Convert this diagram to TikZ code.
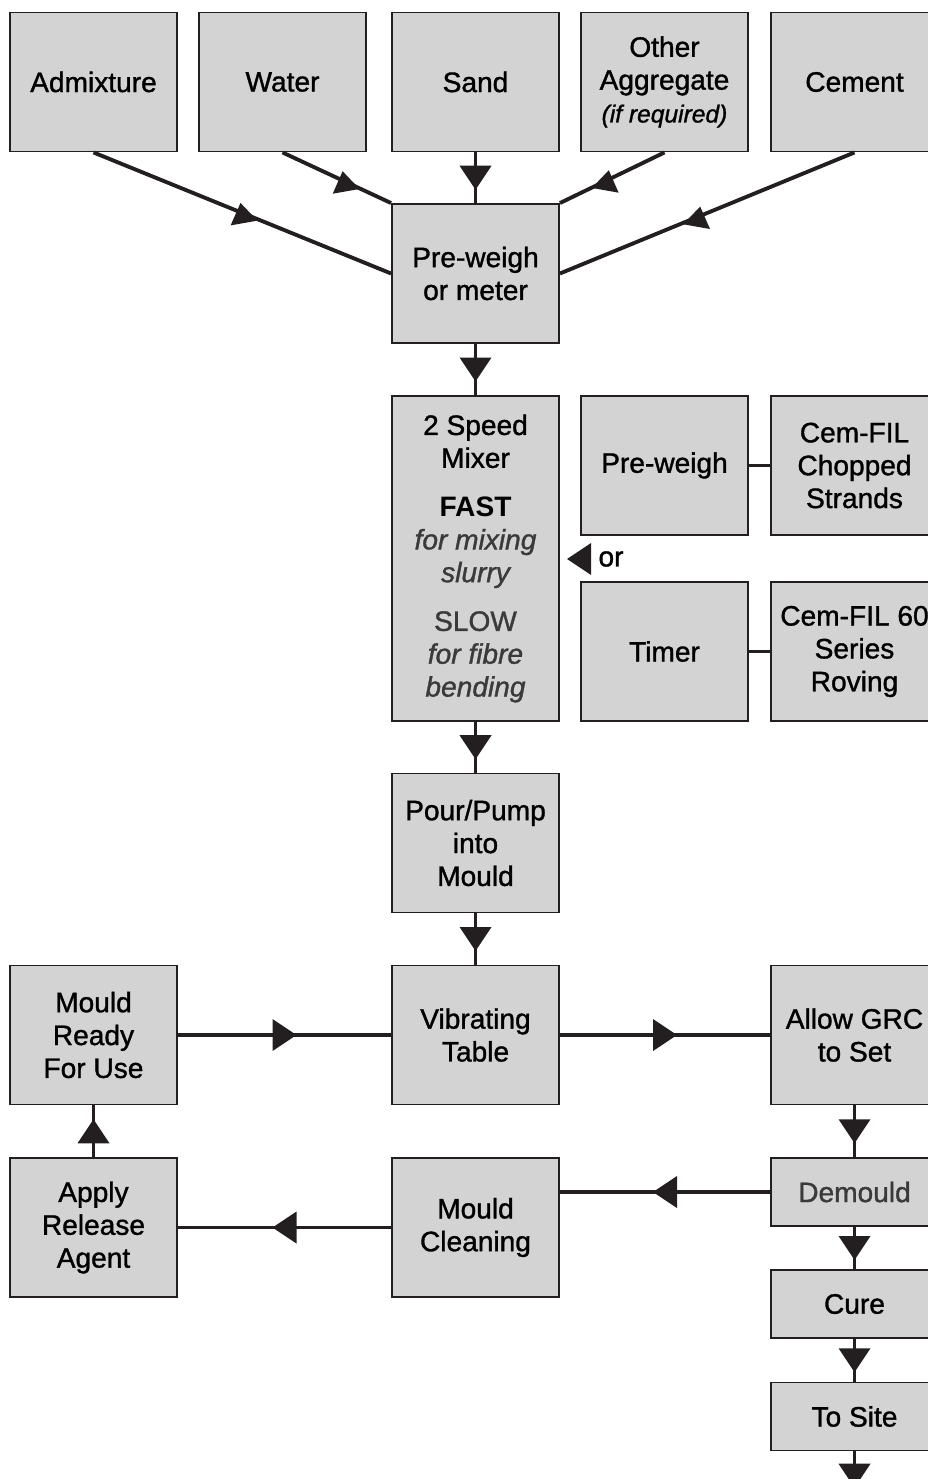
\documentclass[tikz,border=0pt]{standalone}
\usepackage{fontspec}
\setmainfont{Liberation Sans}[UprightFeatures={FakeBold=1.2}, ItalicFeatures={FakeBold=1.2}]
\usetikzlibrary{positioning,calc}

\definecolor{ink}{HTML}{231F20}
\definecolor{boxgray}{HTML}{D3D3D3}
\definecolor{softink}{HTML}{3A3A3A}

\tikzset{
  box/.style={draw=ink, fill=boxgray, line width=1.1pt, minimum width=3.34cm,
    minimum height=2.78cm, align=center, inner sep=0pt,
    font=\fontsize{16}{18.7}\selectfont},
  lowbox/.style={box, minimum height=1.36cm},
  mixbox/.style={box, minimum height=6.5cm},
  link/.style={draw=ink, line width=2.2pt},
  tip/.pic={\fill[ink] (-12,-16) -- (12,0) -- (-12,16) -- cycle;}
}

\begin{document}
\begin{tikzpicture}[x=0.02cm, y=0.02cm]
  \useasboundingbox (0,0) rectangle (928,-1479);

  % raw materials
  \node[box] (adm) at (93.5,-82) {Admixture};
  \node[box] (wat) at (282.5,-82) {Water};
  \node[box] (sand) at (475.5,-82) {Sand};
  \node[box] (oth) at (664.5,-82) {Other\\Aggregate\\{\fontsize{14}{16}\selectfont\itshape (if required)}};
  \node[box] (cem) at (854.5,-82) {Cement};

  \node[box] (pwm) at (475.5,-273.5) {Pre-weigh\\or meter};

  % mixer and fibre
  \node[mixbox] (mix) at (475.5,-558.5) {2 Speed\\Mixer\\[9pt]\textbf{FAST}\\
    {\color{softink}\itshape for mixing}\\{\color{softink}\itshape slurry}\\[9pt]
    {\color{softink}SLOW}\\{\color{softink}\itshape for fibre}\\{\color{softink}\itshape bending}};
  \node[box] (pwf) at (664.5,-465.5) {Pre-weigh};
  \node[box] (chop) at (854.5,-465.5) {Cem-FIL\\Chopped\\Strands};
  \node[box] (tim) at (664.5,-651.5) {Timer};
  \node[box] (rov) at (854.5,-651.5) {Cem-FIL 60\\Series\\Roving};
  \node[font=\fontsize{16}{18.7}\selectfont] (or) at (611,-559) {or};
  \pic[rotate=180] at (579,-559) {tip};

  \node[box] (pour) at (475.5,-843) {Pour/Pump\\into\\Mould};

  % mould cycle
  \node[box] (vib) at (475.5,-1035) {Vibrating\\Table};
  \node[box] (ready) at (93.5,-1035) {Mould\\Ready\\For Use};
  \node[box] (allow) at (854.5,-1035) {Allow GRC\\to Set};
  \node[lowbox] (dem) at (854.5,-1192) {\color{softink}Demould};
  \node[lowbox] (cure) at (854.5,-1304) {Cure};
  \node[lowbox] (site) at (854.5,-1416.5) {To Site};
  \node[box] (apply) at (93.5,-1227.5) {Apply\\Release\\Agent};
  \node[box] (clean) at (475.5,-1227.5) {Mould\\Cleaning};
  \coordinate (out) at (854.5,-1500);

  % feeds into pre-weigh
  \draw[link] (adm.south) -- (pwm.west) coordinate[pos=.5] (am);
  \draw[link] (wat.south) -- (pwm.north west) coordinate[pos=.57] (wm);
  \draw[link] (sand.south) -- (pwm.north) pic[pos=.5, rotate=-90] {tip};
  \draw[link] (oth.south) -- (pwm.north east) coordinate[pos=.55] (om);
  \draw[link] (cem.south) -- (pwm.east) coordinate[pos=.53] (cm);
  \foreach \m/\r in {am/100, wm/100, om/80, cm/80}
    \pic[rotate=\r, scale=.85] at (\m) {tip};

  \draw[link] (pwm.south) -- (mix.north) pic[pos=.5, rotate=-90] {tip};
  \draw[link] (pwf.east) -- (chop.west);
  \draw[link] (tim.east) -- (rov.west);
  \draw[link] (mix.south) -- (pour.north) pic[pos=.5, rotate=-90] {tip};
  \draw[link] (pour.south) -- (vib.north) pic[pos=.5, rotate=-90] {tip};

  \draw[link] (ready.east) -- (vib.west) pic[pos=.5] {tip};
  \draw[link] (vib.east) -- (allow.west) pic[pos=.5] {tip};
  \draw[link] (allow.south) -- (dem.north) pic[pos=.5, rotate=-90] {tip};
  \draw[link] (dem.west) -- (dem.west -| clean.east) pic[pos=.5, rotate=180] {tip};
  \draw[link] (clean.west) -- (apply.east) pic[pos=.5, rotate=180] {tip};
  \draw[link] (apply.north) -- (ready.south) pic[pos=.5, rotate=90] {tip};
  \draw[link] (dem.south) -- (cure.north) pic[pos=.5, rotate=-90] {tip};
  \draw[link] (cure.south) -- (site.north) pic[pos=.5, rotate=-90] {tip};
  \draw[link] (site.south) -- (out) pic[pos=.5, rotate=-90] {tip};
\end{tikzpicture}
\end{document}
